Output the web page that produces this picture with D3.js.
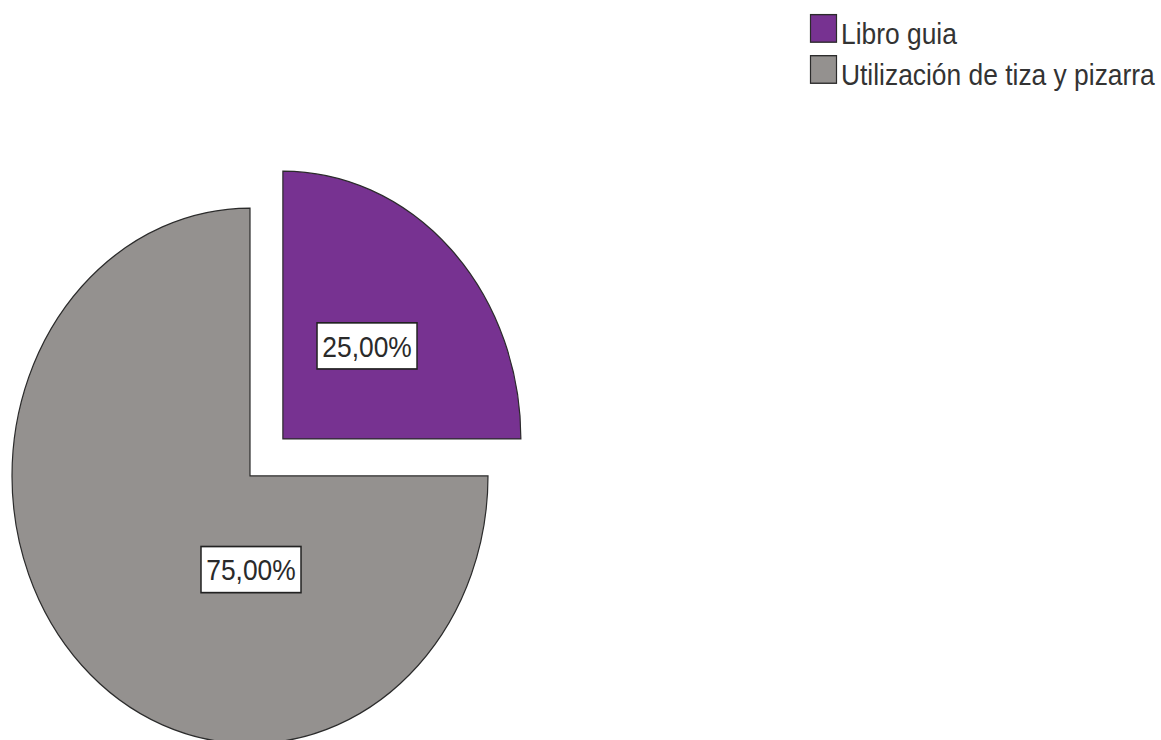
<!DOCTYPE html>
<html>
<head>
<meta charset="utf-8">
<script src="https://cdn.jsdelivr.net/npm/d3@7"></script>
<style>
  html, body { margin: 0; padding: 0; background: #ffffff; }
  svg { display: block; }
</style>
</head>
<body>
<svg id="chart" width="1161" height="740"></svg>
<script>
// Categories and shares (percent)
const categories = ["Libro guia", "Utilización de tiza y pizarra"];
const percentages = [25, 75];
const sliceColors = ["#773291", "#94918f"];
const valueLabels = ["25,00%", "75,00%"];
const exploded = [true, false];

const W = 1161, H = 740;
const sy = 1.125;            // vertical stretch of the whole drawing
const cx = 250, cy = 423;    // pie centre (unstretched units)
const R = 238;
const explodeDist = 46.5;

const svg = d3.select("#chart");
const root = svg.append("g").attr("transform", `scale(1,${sy})`);

const pieData = d3.pie().sort(null).value(d => d.value)
  (categories.map((c, i) => ({ name: c, value: percentages[i], i })));

const arc = d3.arc().innerRadius(0).outerRadius(R);

function offsetOf(d) {
  if (!exploded[d.data.i]) return [0, 0];
  const a = (d.startAngle + d.endAngle) / 2;
  return [Math.sin(a) * explodeDist, -Math.cos(a) * explodeDist];
}

const slices = root.append("g").attr("transform", `translate(${cx},${cy})`);

slices.selectAll("path")
  .data(pieData)
  .join("path")
  .attr("d", arc)
  .attr("transform", d => { const o = offsetOf(d); return `translate(${o[0]},${o[1]})`; })
  .attr("fill", d => sliceColors[d.data.i])
  .attr("stroke", "#2b2b2b")
  .attr("stroke-width", 1.2)
  .attr("stroke-linejoin", "miter");

// value labels in boxed frames
function labelPos(d) {
  const o = offsetOf(d);
  if (exploded[d.data.i]) {
    const c = arc.centroid(d);
    return [c[0] + o[0], c[1] + o[1] + 1.5];
  }
  // large slice: label straight below the centre
  return [1, R * 0.35];
}

const labels = slices.selectAll("g.lbl")
  .data(pieData)
  .join("g")
  .attr("class", "lbl")
  .attr("transform", d => { const p = labelPos(d); return `translate(${p[0]},${p[1]})`; });

const boxW = 100, boxH = 41;
labels.append("rect")
  .attr("x", -boxW / 2)
  .attr("y", -boxH / 2)
  .attr("width", boxW)
  .attr("height", boxH)
  .attr("fill", "#ffffff")
  .attr("stroke", "#222222")
  .attr("stroke-width", 1.5);

labels.append("text")
  .attr("text-anchor", "middle")
  .attr("y", 9.5)
  .attr("font-family", "'Liberation Sans', Arial, sans-serif")
  .attr("font-size", 26.4)
  .attr("fill", "#2a2a2a")
  .text(d => valueLabels[d.data.i]);

// legend
const legend = root.append("g").attr("transform", "translate(810,12.5)");
const rowGap = 36.5;
const items = legend.selectAll("g")
  .data(categories)
  .join("g")
  .attr("transform", (d, i) => `translate(0,${i * rowGap})`);

items.append("rect")
  .attr("x", 0.5)
  .attr("y", 0.5)
  .attr("width", 26)
  .attr("height", 24.5)
  .attr("fill", (d, i) => sliceColors[i])
  .attr("stroke", "#2b2b2b")
  .attr("stroke-width", 1.2);

items.append("text")
  .attr("x", 31)
  .attr("y", 26.5)
  .attr("font-family", "'Liberation Sans', Arial, sans-serif")
  .attr("font-size", 26.4)
  .attr("fill", "#333333")
  .text(d => d);
</script>
</body>
</html>
